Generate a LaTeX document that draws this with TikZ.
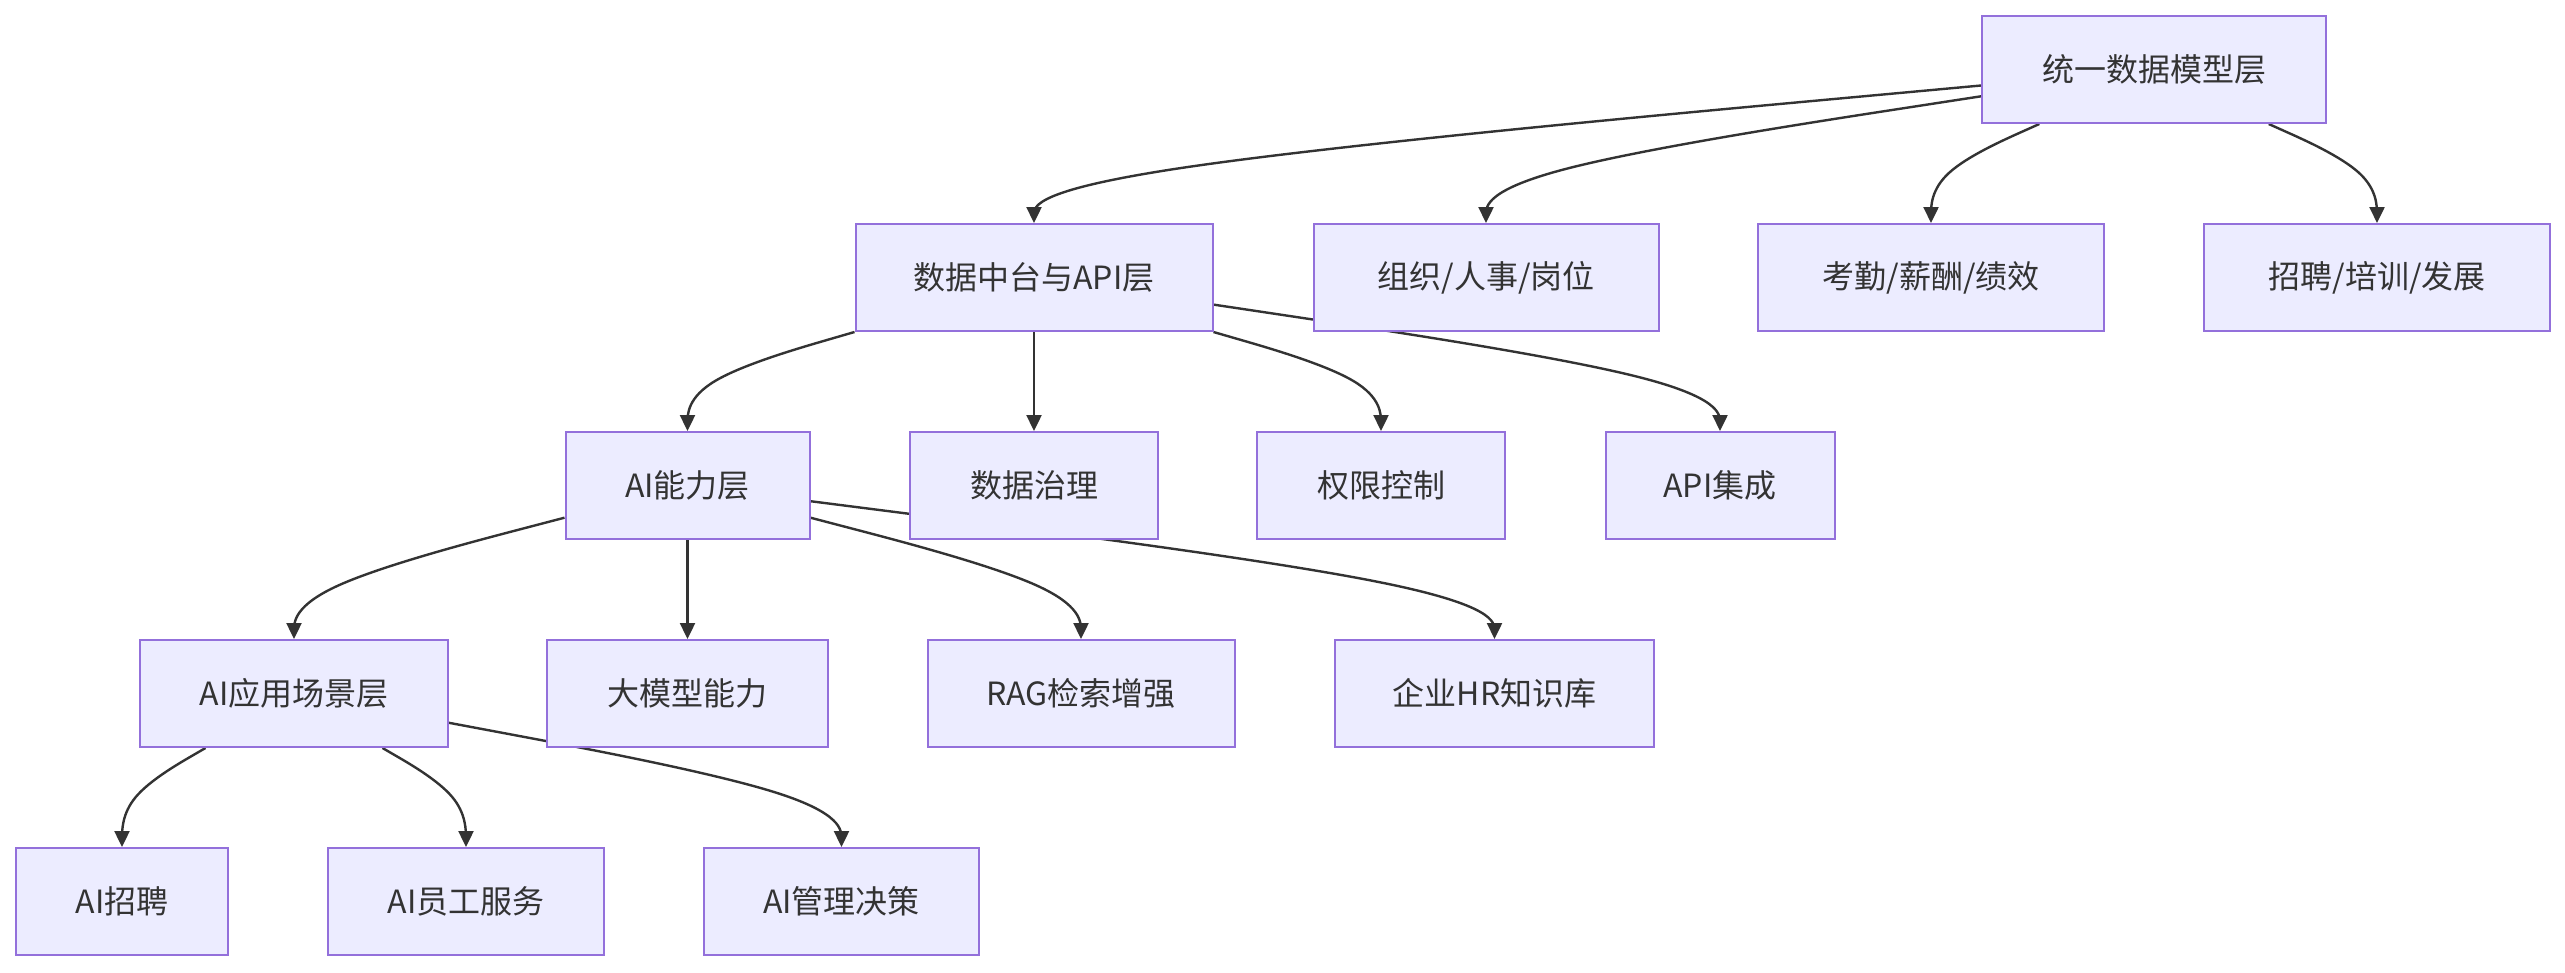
\documentclass[tikz,border=0pt]{standalone}
\usepackage{fontspec}
\newfontfamily\cjkfont{Noto Sans CJK SC}
\usetikzlibrary{arrows.meta,calc,backgrounds}
\definecolor{nodefill}{HTML}{ECECFF}
\definecolor{nodeline}{HTML}{9370DB}
\definecolor{edgecol}{HTML}{333333}
% d3 curveBasis through three points: start, middle, end
\newcommand{\bedge}[3]{\draw[edge] (#1) -- ($(#1)!0.1666667!(#2)$)
  .. controls ($(#1)!0.3333333!(#2)$) and ($(#1)!0.6666667!(#2)$)
  .. ($0.1666667*(#1)+0.6666667*(#2)+0.1666667*(#3)$)
  .. controls ($(#2)!0.3333333!(#3)$) and ($(#2)!0.6666667!(#3)$)
  .. ($(#2)!0.8333333!(#3)$) -- (#3);}
\tikzset{
  box/.style={draw=nodeline, fill=nodefill, line width=2pt, minimum height=107pt,
    inner sep=0pt, text=edgecol, font=\cjkfont\fontsize{32}{38}\selectfont},
  edge/.style={draw=edgecol, line width=2.4pt, -{Triangle[length=16pt,width=15pt]}}
}
\begin{document}
\begin{tikzpicture}[x=1pt,y=-1pt]
\useasboundingbox (0,0) rectangle (2565,972);
% row 1
\node[box, minimum width=344pt] (nU) at (2154,69.5) {统一数据模型层};
% row 2
\node[box, minimum width=357pt] (nD) at (1034,277.5) {数据中台与API层};
\node[box, minimum width=345pt] (nO) at (1486,277.5) {组织/人事/岗位};
\node[box, minimum width=346pt] (nK) at (1931,277.5) {考勤/薪酬/绩效};
\node[box, minimum width=346pt] (nZ) at (2377,277.5) {招聘/培训/发展};
% row 3
\node[box, minimum width=244pt] (nA) at (687.5,485.5) {AI能力层};
\node[box, minimum width=248pt] (nG) at (1034,485.5) {数据治理};
\node[box, minimum width=248pt] (nQ) at (1381,485.5) {权限控制};
\node[box, minimum width=229pt] (nAPI) at (1720,485.5) {API集成};
% row 4
\node[box, minimum width=308pt] (nS) at (294,693.5) {AI应用场景层};
\node[box, minimum width=281pt] (nM) at (687.5,693.5) {大模型能力};
\node[box, minimum width=307pt] (nR) at (1081,693.5) {RAG检索增强};
\node[box, minimum width=319pt] (nH) at (1494.5,693.5) {企业HR知识库};
% row 5
\node[box, minimum width=212pt] (nR1) at (122,901.5) {AI招聘};
\node[box, minimum width=276pt] (nR2) at (466,901.5) {AI员工服务};
\node[box, minimum width=275pt] (nR3) at (841.5,901.5) {AI管理决策};

\begin{pgfonlayer}{background}
\fill[white] (0,0) rectangle (2565,972);
% start points on source borders
\coordinate (s1) at ([yshift=-16pt]nU.west);
\coordinate (s2) at ([yshift=-26.8pt]nU.west);
\coordinate (s3) at ([xshift=-114.7pt]nU.south);
\coordinate (s4) at ([xshift=114.7pt]nU.south);
\coordinate (s8) at ([yshift=-27.1pt]nD.east);
\coordinate (s9) at ([yshift=-32.2pt]nA.west);
\coordinate (s11) at ([yshift=-32.2pt]nA.east);
\coordinate (s12) at ([yshift=-15.7pt]nA.east);
\coordinate (s13) at ([xshift=-88.5pt]nS.south);
\coordinate (s14) at ([xshift=88.5pt]nS.south);
\coordinate (s15) at ([yshift=-29.3pt]nS.east);
% middle points above targets
\coordinate (m1) at ([yshift=50.5pt]nD.north);
\coordinate (m2) at ([yshift=50.5pt]nO.north);
\coordinate (m3) at ([yshift=50.5pt]nK.north);
\coordinate (m4) at ([yshift=50.5pt]nZ.north);
\coordinate (m5) at ([yshift=50.5pt]nA.north);
\coordinate (m7) at ([yshift=50.5pt]nQ.north);
\coordinate (m8) at ([yshift=50.5pt]nAPI.north);
\coordinate (m9) at ([yshift=50.5pt]nS.north);
\coordinate (m11) at ([yshift=50.5pt]nR.north);
\coordinate (m12) at ([yshift=50.5pt]nH.north);
\coordinate (m13) at ([yshift=50.5pt]nR1.north);
\coordinate (m14) at ([yshift=50.5pt]nR2.north);
\coordinate (m15) at ([yshift=50.5pt]nR3.north);

\bedge{s1}{m1}{nD.north}
\bedge{s2}{m2}{nO.north}
\bedge{s3}{m3}{nK.north}
\bedge{s4}{m4}{nZ.north}
\bedge{nD.south west}{m5}{nA.north}
\draw[edge] (nD.south) -- (nG.north);
\bedge{nD.south east}{m7}{nQ.north}
\bedge{s8}{m8}{nAPI.north}
\bedge{s9}{m9}{nS.north}
\draw[edge] (nA.south) -- (nM.north);
\bedge{s11}{m11}{nR.north}
\bedge{s12}{m12}{nH.north}
\bedge{s13}{m13}{nR1.north}
\bedge{s14}{m14}{nR2.north}
\bedge{s15}{m15}{nR3.north}
\end{pgfonlayer}
\end{tikzpicture}
\end{document}
